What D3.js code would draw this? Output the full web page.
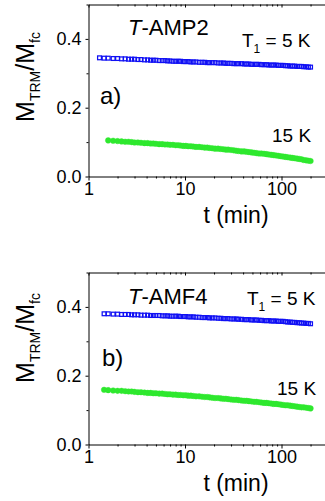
<!DOCTYPE html>
<html>
<head>
<meta charset="utf-8">
<script src="https://cdn.jsdelivr.net/npm/d3@7"></script>
<style>
  html, body { margin: 0; padding: 0; background: #fff; }
  svg { display: block; font-family: "Liberation Sans", Arial, sans-serif; }
</style>
</head>
<body>
<svg id="chart" width="325" height="501"></svg>
<script>
// Relaxation time grid (min), shared by all curves
const times = [1.3,1.45,1.6,1.8,2.0,2.2,2.4,2.6,2.8,3.0,3.25,3.5,3.8,4.1,4.4,4.7,5.0,5.4,5.8,6.2,6.6,7.0,7.5,8.0,8.5,9.0,9.6,
  10.2,10.8,11.5,12.2,13,14,15,16,17,18,19.2,20.5,22,23.5,25,26.5,28,30,32,34,36,38.5,41,43.5,46,49,52,55,58.5,62,66,70,74,78.5,83,88,93,98.5,
  104,110,116,123,130,137,145,153,161,170,180,190,200];

// T-AMP2, T1 = 5 K
const ampBlue = [0.345,0.344,0.344,0.343,0.343,0.342,0.342,0.341,0.341,0.341,0.340,0.340,0.339,0.339,0.338,0.338,0.338,0.337,0.337,0.337,0.336,0.336,0.335,0.335,0.335,0.335,0.334,
  0.334,0.334,0.333,0.333,0.333,0.332,0.332,0.332,0.331,0.331,0.331,0.331,0.330,0.330,0.330,0.329,0.329,0.329,0.328,0.328,0.328,0.328,0.327,0.327,0.327,0.326,0.326,0.326,0.326,0.325,0.325,0.325,0.324,0.324,0.324,0.324,0.323,0.323,
  0.323,0.322,0.322,0.321,0.321,0.321,0.320,0.320,0.320,0.319,0.319,0.318,0.318];
// T-AMP2, 15 K
const ampGreen = [null,null,0.105,0.104,0.103,0.102,0.101,0.101,0.100,0.099,0.099,0.098,0.097,0.097,0.096,0.096,0.095,0.094,0.094,0.093,0.093,0.092,0.092,0.091,0.091,0.090,0.089,
  0.089,0.088,0.088,0.087,0.086,0.086,0.085,0.084,0.084,0.083,0.082,0.081,0.081,0.080,0.079,0.078,0.078,0.077,0.076,0.075,0.074,0.073,0.073,0.072,0.071,0.070,0.069,0.068,0.067,0.067,0.066,0.065,0.064,0.063,0.062,0.061,0.060,0.059,
  0.058,0.057,0.056,0.055,0.054,0.053,0.052,0.051,0.050,0.048,0.047,0.046,0.045];
// T-AMF4, T1 = 5 K
const amfBlue = [null,0.380,0.380,0.379,0.379,0.378,0.378,0.378,0.377,0.377,0.377,0.376,0.376,0.376,0.375,0.375,0.375,0.375,0.374,0.374,0.374,0.373,0.373,0.373,0.373,0.372,0.372,
  0.372,0.371,0.371,0.371,0.370,0.370,0.369,0.369,0.369,0.368,0.368,0.368,0.367,0.367,0.366,0.366,0.366,0.365,0.365,0.365,0.364,0.364,0.363,0.363,0.363,0.362,0.362,0.362,0.361,0.361,0.360,0.360,0.360,0.359,0.359,0.359,0.358,0.358,
  0.358,0.357,0.356,0.356,0.355,0.355,0.354,0.354,0.353,0.353,0.352,0.352,0.351];
// T-AMF4, 15 K
const amfGreen = [null,0.159,0.158,0.157,0.156,0.156,0.155,0.154,0.154,0.153,0.152,0.152,0.151,0.150,0.150,0.149,0.149,0.148,0.148,0.147,0.146,0.146,0.145,0.145,0.144,0.144,0.143,
  0.143,0.142,0.142,0.141,0.140,0.140,0.139,0.138,0.138,0.137,0.136,0.135,0.135,0.134,0.133,0.133,0.132,0.131,0.130,0.130,0.129,0.128,0.127,0.127,0.126,0.125,0.124,0.124,0.123,0.122,0.121,0.121,0.120,0.119,0.118,0.118,0.117,0.116,
  0.115,0.114,0.114,0.113,0.112,0.111,0.110,0.109,0.108,0.108,0.107,0.106,0.105];

const xMajor = [1, 10, 100];
const yMajor = [0.0, 0.2, 0.4];
const yMinor = [0.1, 0.3, 0.5];
const sampleNames = ["AMP2", "AMF4"];
const panelLetters = ["a)", "b)"];

const BLUE = "#1010f4";
const GREEN = "#2ee82e";

const svg = d3.select("#chart");

const x = d3.scaleLog().domain([1, 1000]).range([88.5, 378]);
const xMinor = [];
[1, 10, 100].forEach(d => { for (let k = 2; k <= 9; k++) xMinor.push(d * k); });

const panels = [
  { top: 4.5, bottom: 176.5, blue: ampBlue, green: ampGreen, name: sampleNames[0], letter: panelLetters[0],
    title: [128, 34.5], t1: [242, 46.5], let: [100, 103.5], k15: [272, 141.5], ylab: 77, xlab: 223 },
  { top: 272.5, bottom: 444.5, blue: amfBlue, green: amfGreen, name: sampleNames[1], letter: panelLetters[1],
    title: [128, 303.5], t1: [247, 305], let: [102, 365.5], k15: [277, 395], ylab: 338, xlab: 491 }
];

panels.forEach(p => {
  const y = d3.scaleLinear().domain([0, 0.5]).range([p.bottom, p.top]);
  const g = svg.append("g");

  // bottom axis: major ticks with labels, minor ticks without
  const bot = g.append("g").attr("transform", `translate(0,${p.bottom})`);
  bot.call(d3.axisBottom(x).tickValues(xMajor).tickSize(4).tickSizeOuter(0).tickFormat(d3.format("d")));
  bot.append("g").call(d3.axisBottom(x).tickValues(xMinor).tickSize(2).tickFormat(""))
     .select(".domain").remove();
  bot.selectAll("text").attr("font-size", 18).attr("font-family", "Liberation Sans, Arial, sans-serif")
     .attr("fill", "#000").attr("dy", "0.72em").attr("y", 6);

  // top axis: ticks only
  const top = g.append("g").attr("transform", `translate(0,${p.top})`);
  top.call(d3.axisTop(x).tickValues(xMajor).tickSize(-3).tickSizeOuter(0).tickFormat(""));
  top.append("g").call(d3.axisTop(x).tickValues(xMinor).tickSize(-2).tickFormat(""))
     .select(".domain").remove();

  // left axis
  const left = g.append("g").attr("transform", `translate(${x(1)},0)`);
  left.call(d3.axisLeft(y).tickValues(yMajor).tickSize(3).tickSizeOuter(0).tickFormat(d3.format(".1f")));
  left.append("g").call(d3.axisLeft(y).tickValues(yMinor).tickSize(2).tickFormat(""))
      .select(".domain").remove();
  left.selectAll("text").attr("font-size", 18).attr("font-family", "Liberation Sans, Arial, sans-serif")
      .attr("fill", "#000").attr("x", -7);

  g.selectAll(".domain, .tick line").attr("stroke", "#000").attr("stroke-width", 1);

  // 15 K data: filled circles
  const greenPts = times.map((t, i) => ({ t, v: p.green[i] })).filter(d => d.v !== null);
  g.append("g").selectAll("circle").data(greenPts).join("circle")
    .attr("cx", d => x(d.t)).attr("cy", d => y(d.v)).attr("r", 2.8)
    .attr("fill", GREEN).attr("stroke", GREEN).attr("stroke-width", 0.4);

  // 5 K data: open squares
  const bluePts = times.map((t, i) => ({ t, v: p.blue[i] })).filter(d => d.v !== null);
  const s = 3.8;
  g.append("g").selectAll("rect").data(bluePts).join("rect")
    .attr("x", d => x(d.t) - s / 2).attr("y", d => y(d.v) - s / 2)
    .attr("width", s).attr("height", s)
    .attr("fill", "none").attr("stroke", BLUE).attr("stroke-width", 1.25);

  // sample title with italic T
  const ttl = g.append("text").attr("x", p.title[0]).attr("y", p.title[1]).attr("font-size", 22).attr("fill", "#000");
  ttl.append("tspan").attr("font-style", "italic").text("T");
  ttl.append("tspan").text("-" + p.name);

  // T1 = 5 K
  const t1 = g.append("text").attr("x", p.t1[0]).attr("y", p.t1[1]).attr("font-size", 19).attr("fill", "#000");
  t1.append("tspan").text("T");
  t1.append("tspan").attr("font-size", 12).attr("dy", 6).text("1");
  t1.append("tspan").attr("dy", -6).text(" = 5 K");

  // 15 K
  g.append("text").attr("x", p.k15[0]).attr("y", p.k15[1]).attr("font-size", 19).attr("fill", "#000").text("15 K");

  // panel letter
  g.append("text").attr("x", p.let[0]).attr("y", p.let[1]).attr("font-size", 24).attr("fill", "#000").text(p.letter);

  // y axis title
  const yl = g.append("text").attr("transform", `translate(34,${p.ylab}) rotate(-90)`)
    .attr("text-anchor", "middle").attr("font-size", 25).attr("fill", "#000");
  yl.append("tspan").text("M");
  yl.append("tspan").attr("font-size", 14).attr("dy", 6).text("TRM");
  yl.append("tspan").attr("dy", -6).text("/M");
  yl.append("tspan").attr("font-size", 14).attr("dy", 6).text("fc");

  // x axis title
  g.append("text").attr("x", 236).attr("y", p.xlab).attr("text-anchor", "middle")
    .attr("font-size", 23).attr("fill", "#000").text("t (min)");
});
</script>
</body>
</html>
